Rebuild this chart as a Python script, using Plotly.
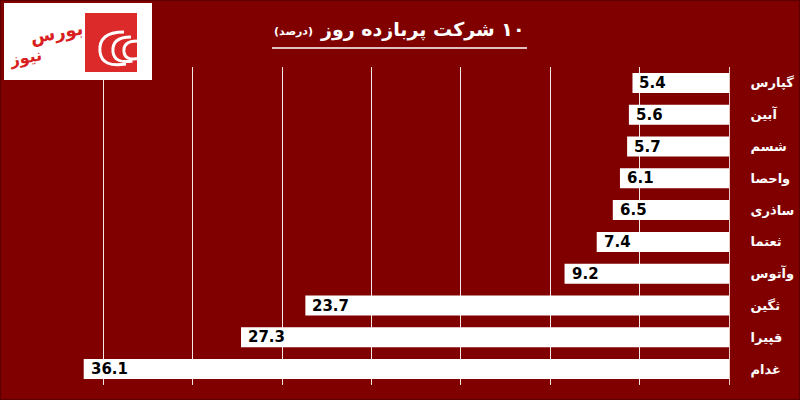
import plotly.graph_objects as go

categories = ["گپارس", "آبین", "شسم", "واحصا", "ساذری", "ثعتما", "وآتوس", "ثگین", "قپیرا", "غدام"]
values = [5.4, 5.6, 5.7, 6.1, 6.5, 7.4, 9.2, 23.7, 27.3, 36.1]
value_labels = ["5.4", "5.6", "5.7", "6.1", "6.5", "7.4", "9.2", "23.7", "27.3", "36.1"]
title_main = "\u061c۱۰ شرکت پربازده روز\u061c"
title_unit = "\u061c(درصد)\u061c"
logo_word1 = "بورس"
logo_word2 = "نیوز"

W, H = 800, 400
ML, MR, MT, MB = 14, 71, 67, 15
PW, PH = W - ML - MR, H - MT - MB
BG = "#800000"


def px(x):
    return (x - ML) / PW


def py(y):
    return (H - MB - y) / PH


fig = go.Figure()
fig.add_trace(go.Bar(
    x=values, y=categories, orientation="h",
    marker=dict(color="white", line=dict(width=0)),
    width=0.63, hoverinfo="skip",
))

annotations = []
for v, c, t in zip(values, categories, value_labels):
    annotations.append(dict(
        x=v, y=c, xref="x", yref="y", text=t, showarrow=False,
        xanchor="left", yanchor="middle", xshift=5,
        font=dict(family="DejaVu Sans", size=15, color="black", weight="bold"),
    ))

# title
annotations.append(dict(
    x=px(527), y=py(29), xref="paper", yref="paper", text=title_main,
    showarrow=False, xanchor="right", yanchor="middle",
    font=dict(family="DejaVu Sans", size=19, color="white", weight="bold"),
))
annotations.append(dict(
    x=px(272), y=py(32), xref="paper", yref="paper", text=title_unit,
    showarrow=False, xanchor="left", yanchor="middle",
    font=dict(family="DejaVu Sans", size=11, color="white", weight="bold"),
))
# logo text
annotations.append(dict(
    x=px(56), y=py(33), xref="paper", yref="paper", text=logo_word1,
    showarrow=False, xanchor="center", yanchor="middle", textangle=-10,
    font=dict(family="DejaVu Sans", size=18, color="#d81e1e", weight="bold"),
))
annotations.append(dict(
    x=px(25), y=py(57), xref="paper", yref="paper", text=logo_word2,
    showarrow=False, xanchor="center", yanchor="middle", textangle=-10,
    font=dict(family="DejaVu Sans", size=16, color="#d81e1e", weight="bold"),
))

shapes = [
    # title underline
    dict(type="line", xref="paper", yref="paper", x0=px(272), x1=px(527),
         y0=py(48), y1=py(48), line=dict(color="white", width=1.5)),
    # logo
    dict(type="rect", xref="paper", yref="paper", x0=px(4), x1=px(152),
         y0=py(80), y1=py(3), fillcolor="white", line=dict(width=0)),
    dict(type="rect", xref="paper", yref="paper", x0=px(85), x1=px(137),
         y0=py(72), y1=py(13), fillcolor="#dc2a2a", line=dict(width=0)),
]
for r, x0 in [(20, 100), (15, 113), (11, 124)]:
    cx, cy = x0 + r, 52
    path = (f"M {px(cx + r * 0.2)},{py(cy - r)} "
            f"Q {px(cx - r * 1.1)},{py(cy - r)} {px(cx - r)},{py(cy)} "
            f"Q {px(cx - r * 0.9)},{py(cy + r * 0.8)} {px(cx + r * 0.3)},{py(cy + r * 0.6)}")
    shapes.append(dict(type="path", xref="paper", yref="paper", path=path,
                       line=dict(color="white", width=3)))
# outer frame
shapes.append(dict(type="rect", xref="paper", yref="paper", x0=px(0.5), x1=px(799.5),
                   y0=py(399.5), y1=py(0.5), line=dict(color="#5a0000", width=1)))

fig.update_layout(
    width=W, height=H,
    margin=dict(l=ML, r=MR, t=MT, b=MB, autoexpand=False),
    paper_bgcolor=BG, plot_bgcolor=BG,
    showlegend=False,
    xaxis=dict(range=[40, 0], showticklabels=False, showgrid=True,
               gridcolor="rgba(255,255,255,0.9)", gridwidth=1, dtick=5, tick0=0,
               zeroline=False, showline=False, fixedrange=True, automargin=False),
    yaxis=dict(side="right", autorange="reversed", showgrid=False, zeroline=False,
               showline=True, linecolor="#e8c8c8", linewidth=1, automargin=False,
               ticks="", ticklabelstandoff=18,
               tickfont=dict(family="DejaVu Sans", size=13, color="white", weight="bold")),
    annotations=annotations,
    shapes=shapes,
)

fig.write_html(
    "out.html",
    config={"displayModeBar": False, "staticPlot": True},
    post_script="document.body.style.margin='0';document.body.style.padding='0';"
                "document.body.style.overflow='hidden';",
)
